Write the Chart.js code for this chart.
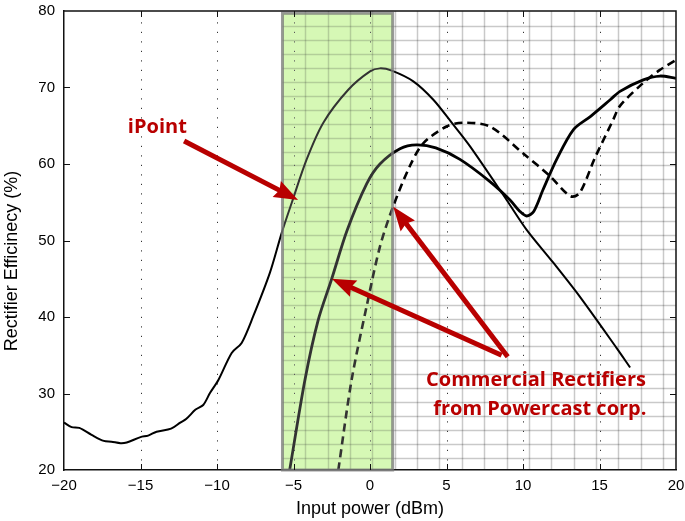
<!DOCTYPE html>
<html>
<head>
<meta charset="utf-8">
<script src="https://cdn.jsdelivr.net/npm/chart.js@4/dist/chart.umd.min.js"></script>
<style>
  html, body { margin: 0; padding: 0; background: #fff; }
  canvas { display: block; }
</style>
</head>
<body>
<canvas id="chart" width="685" height="521"></canvas>
<script>
// iPoint rectifier (thin solid)
const ipointX = [-20, -19.5, -19, -18.2, -17.4, -16.9, -16.3, -15.9, -15, -14.5, -13.95, -13, -12.4, -12, -11.4, -10.9, -10.45, -9.9, -9.04, -8.39, -7.63, -6.54, -5.77, -5.12, -4.14, -3.05, -1.42, 0, 0.65, 1.42, 2.83, 4.14, 5.34, 6.54, 8.93, 10.24, 11.98, 13.7, 16.1, 17];
const ipointY = [26.2, 25.6, 25.5, 24.6, 23.8, 23.7, 23.5, 23.6, 24.3, 24.5, 25.0, 25.4, 26.2, 26.7, 27.9, 28.5, 30.1, 31.8, 35.3, 36.6, 40.1, 45.8, 51.0, 54.9, 60.6, 65.4, 69.7, 72.1, 72.5, 72.2, 70.8, 68.4, 65.4, 62.3, 55.3, 51.4, 47.1, 42.7, 36.0, 33.4];

// Powercast rectifier A (thick solid)
const powerAX = [-5.25, -4.25, -3.4, -2.5, -1.5, -0.22, 0.65, 1.96, 3.05, 4.3, 5.88, 7.84, 9.15, 9.8, 10.24, 10.7, 11.3, 12.2, 13.3, 14.4, 15.7, 16.34, 17.86, 18.95, 20];
const powerAY = [20, 31.8, 39.5, 45.0, 51.3, 57.4, 60.0, 62.0, 62.5, 62.1, 60.6, 57.7, 55.3, 53.8, 53.2, 53.8, 56.6, 60.6, 64.5, 66.2, 68.4, 69.5, 71.0, 71.5, 71.2];

// Powercast rectifier B (dashed)
const powerBX = [-2.07, -1.2, -0.22, 0.65, 1.52, 2.6, 3.48, 5.0, 6.1, 7.84, 10.0, 11.77, 13.1, 13.7, 14.7, 15.9, 16.34, 17.86, 18.95, 20];
const powerBY = [20, 31.8, 41.4, 49.2, 54.5, 59.7, 62.7, 64.9, 65.4, 64.9, 61.4, 58.4, 55.8, 56.2, 60.8, 65.8, 67.6, 70.6, 72.3, 73.6];

const xTicks = [-20, -15, -10, -5, 0, 5, 10, 15, 20];
const yTicks = [20, 30, 40, 50, 60, 70, 80];

const xTitle = 'Input power (dBm)';
const yTitle = 'Rectifier Efficinecy (%)';

// shaded band (dBm range, efficiency top)
const bandX = [-5.72, 1.48];
const bandTop = 79.7;

// graph paper overlay
const paperLeft = -5.72;
const paperXStart = -4.23, paperXStep = 1.462, paperXCount = 17;
const paperYStart = 78.0, paperYStep = 1.819, paperYCount = 32;

// annotations: text and arrows in data units
const labels = [
  { text: 'iPoint', x: -13.9, y: 64.8 },
  { text: 'Commercial Rectifiers', x: 10.85, y: 31.7 },
  { text: 'from Powercast corp.', x: 11.1, y: 27.9 }
];
const arrows = [
  { from: [-12.15, 63.0], to: [-4.7, 55.3] },
  { from: [8.6, 35.0], to: [-2.5, 45.0] },
  { from: [9.0, 34.8], to: [1.52, 54.4] }
];

const RED = '#b80000';
const FAMILY = '"Liberation Sans", Arial, sans-serif';
const toPts = (xs, ys) => xs.map((x, i) => ({ x: x, y: ys[i] }));

const paperPlugin = {
  id: 'paper',
  beforeDraw(chart) {
    const { ctx, chartArea: a, scales: { x, y } } = chart;
    ctx.save();
    ctx.beginPath();
    ctx.rect(a.left, a.top, a.right - a.left, a.bottom - a.top);
    ctx.clip();
    // green band
    const bl = x.getPixelForValue(bandX[0]), br = x.getPixelForValue(bandX[1]);
    const bt = y.getPixelForValue(bandTop);
    ctx.fillStyle = 'rgb(204,247,163)';
    ctx.fillRect(bl, bt, br - bl, a.bottom - bt);
    // paper grid
    ctx.strokeStyle = 'rgba(0,0,0,0.21)';
    ctx.lineWidth = 1.5;
    const pl = x.getPixelForValue(paperLeft);
    for (let i = 0; i < paperYCount; i++) {
      const py = Math.round(y.getPixelForValue(paperYStart - i * paperYStep)) + 0.5;
      ctx.beginPath(); ctx.moveTo(pl, py); ctx.lineTo(a.right, py); ctx.stroke();
    }
    for (let i = 0; i < paperXCount; i++) {
      const px = Math.round(x.getPixelForValue(paperXStart + i * paperXStep)) + 0.5;
      ctx.beginPath(); ctx.moveTo(px, a.top); ctx.lineTo(px, a.bottom); ctx.stroke();
    }
    // dotted x grid
    ctx.strokeStyle = '#333';
    ctx.lineWidth = 1;
    ctx.setLineDash([1.2, 8.3]);
    xTicks.slice(1, -1).forEach(v => {
      const px = Math.round(x.getPixelForValue(v)) + 0.5;
      ctx.beginPath(); ctx.moveTo(px, a.bottom); ctx.lineTo(px, a.top); ctx.stroke();
    });
    ctx.restore();
  },
  afterDatasetsDraw(chart) {
    const { ctx, chartArea: a, scales: { x, y } } = chart;
    ctx.save();
    // lighten band contents and frame it
    const bl = x.getPixelForValue(bandX[0]), br = x.getPixelForValue(bandX[1]);
    const bt = y.getPixelForValue(bandTop);
    ctx.fillStyle = 'rgba(255,255,255,0.2)';
    ctx.fillRect(bl, bt, br - bl, a.bottom - bt);
    ctx.strokeStyle = 'rgba(120,120,120,0.75)';
    ctx.lineWidth = 3;
    ctx.strokeRect(bl, bt, br - bl, a.bottom - bt);

    // box frame and inward ticks
    ctx.strokeStyle = '#111';
    ctx.lineWidth = 1.5;
    ctx.beginPath();
    ctx.moveTo(a.left, a.top); ctx.lineTo(a.right, a.top); ctx.lineTo(a.right, a.bottom);
    ctx.stroke();
    ctx.lineWidth = 1;
    const tl = 6;
    xTicks.slice(1, -1).forEach(v => {
      const px = Math.round(x.getPixelForValue(v)) + 0.5;
      ctx.beginPath();
      ctx.moveTo(px, a.bottom); ctx.lineTo(px, a.bottom - tl);
      ctx.moveTo(px, a.top); ctx.lineTo(px, a.top + tl);
      ctx.stroke();
    });
    yTicks.slice(1, -1).forEach(v => {
      const py = Math.round(y.getPixelForValue(v)) + 0.5;
      ctx.beginPath();
      ctx.moveTo(a.left, py); ctx.lineTo(a.left + tl, py);
      ctx.moveTo(a.right, py); ctx.lineTo(a.right - tl, py);
      ctx.stroke();
    });

    // arrows
    ctx.strokeStyle = RED;
    ctx.fillStyle = RED;
    ctx.lineWidth = 5;
    arrows.forEach(ar => {
      const x0 = x.getPixelForValue(ar.from[0]), y0 = y.getPixelForValue(ar.from[1]);
      const x1 = x.getPixelForValue(ar.to[0]), y1 = y.getPixelForValue(ar.to[1]);
      const ang = Math.atan2(y1 - y0, x1 - x0);
      const c = Math.cos(ang), s = Math.sin(ang);
      const hl = 21, hw = 9;
      const bx = x1 - hl * c, by = y1 - hl * s;
      ctx.beginPath();
      ctx.moveTo(x0, y0); ctx.lineTo(bx + 4 * c, by + 4 * s);
      ctx.stroke();
      ctx.beginPath();
      ctx.moveTo(x1, y1);
      ctx.lineTo(bx - hw * s - 3 * c, by + hw * c - 3 * s);
      ctx.lineTo(bx, by);
      ctx.lineTo(bx + hw * s - 3 * c, by - hw * c - 3 * s);
      ctx.closePath();
      ctx.fill();
    });

    // labels
    ctx.font = 'bold 20px "Open Sans", sans-serif';
    ctx.textAlign = 'center';
    ctx.textBaseline = 'middle';
    labels.forEach(l => {
      ctx.fillText(l.text, x.getPixelForValue(l.x), y.getPixelForValue(l.y));
    });
    ctx.restore();
  },
  afterDraw(chart) {
    const { ctx, chartArea: a } = chart;
    ctx.save();
    ctx.fillStyle = '#000';
    ctx.font = '18px ' + FAMILY;
    ctx.textAlign = 'center';
    ctx.textBaseline = 'middle';
    ctx.fillText(xTitle, (a.left + a.right) / 2, 509);
    ctx.translate(12, 261);
    ctx.rotate(-Math.PI / 2);
    ctx.fillText(yTitle, 0, 0);
    ctx.restore();
  }
};

const tickFont = { family: FAMILY, size: 15 };

new Chart(document.getElementById('chart'), {
  type: 'line',
  data: {
    datasets: [
      {
        label: 'iPoint',
        data: toPts(ipointX, ipointY),
        borderColor: '#000',
        borderWidth: 2,
        tension: 0.3,
        pointRadius: 0
      },
      {
        label: 'Powercast A',
        data: toPts(powerAX, powerAY),
        borderColor: '#000',
        borderWidth: 2.8,
        tension: 0.3,
        pointRadius: 0
      },
      {
        label: 'Powercast B',
        data: toPts(powerBX, powerBY),
        borderColor: '#000',
        borderWidth: 2.6,
        borderDash: [8, 5],
        tension: 0.3,
        pointRadius: 0
      }
    ]
  },
  options: {
    responsive: false,
    animation: false,
    devicePixelRatio: 1,
    layout: { padding: { top: 11, right: 9, left: 0, bottom: 0 } },
    plugins: {
      legend: { display: false },
      tooltip: { enabled: false }
    },
    scales: {
      x: {
        type: 'linear',
        min: -20,
        max: 20,
        afterBuildTicks: s => { s.ticks = xTicks.map(v => ({ value: v })); },
        ticks: {
          callback: v => String(v).replace('-', '\u2212'),
          font: tickFont,
          color: '#000',
          padding: 7,
          maxRotation: 0
        },
        grid: { display: false, drawTicks: false },
        border: { color: '#111', width: 1.5 },
        afterFit: s => { s.height = 51; s.paddingLeft = 0; s.paddingRight = 0; }
      },
      y: {
        min: 20,
        max: 80,
        afterBuildTicks: s => { s.ticks = yTicks.map(v => ({ value: v })); },
        ticks: {
          font: tickFont,
          color: '#000',
          padding: 9
        },
        grid: { display: false, drawTicks: false },
        border: { color: '#111', width: 1.5 },
        afterFit: s => { s.width = 64; s.paddingTop = 0; s.paddingBottom = 0; }
      }
    }
  },
  plugins: [paperPlugin]
});
</script>
</body>
</html>
